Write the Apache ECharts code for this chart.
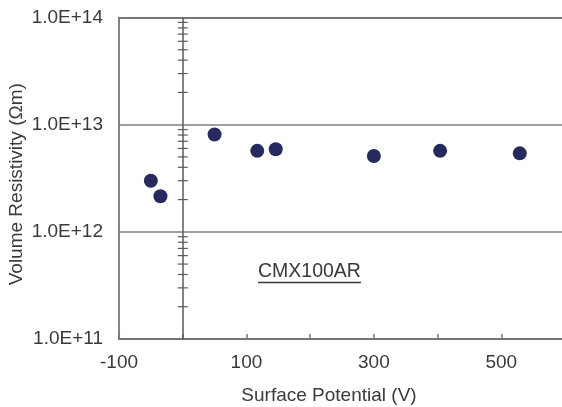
<!DOCTYPE html>
<html>
<head>
<meta charset="utf-8">
<script src="https://cdn.jsdelivr.net/npm/echarts@6/dist/echarts.min.js"></script>
<style>html,body{margin:0;padding:0;background:#fff}#c{width:562px;height:407px}</style>
</head>
<body>
<div id="c"></div>
<script>
// Data
const surfacePotential = [-50, -35, 50, 117, 146, 300, 404, 529];
const volumeResistivity = [3.0e12, 2.15e12, 8.1e12, 5.7e12, 5.9e12, 5.1e12, 5.7e12, 5.4e12];
const xTickLabels = ['-100', '100', '300', '500'];
const yDecades = [1e11, 1e12, 1e13];
const minorMultipliers = [2, 3, 4, 5, 6, 7, 8, 9];
const annotationText = 'CMX100AR';

const FONT = "'Liberation Sans', Arial, sans-serif";
const TXT = '#3a3a3a';
const AXIS = '#7a7574';

const minorTicks = [];
yDecades.forEach(d => minorMultipliers.forEach(m => minorTicks.push([0, d * m])));

const chart = echarts.init(document.getElementById('c'), null, {renderer: 'canvas'});
chart.setOption({
  animation: false,
  backgroundColor: '#fff',
  grid: {left: 119, right: -3, top: 17.5, bottom: 68, containLabel: false, outerBoundsMode: 'none'},
  xAxis: {
    type: 'value', min: -100, max: 600, interval: 100,
    name: 'Surface Potential (V)', nameLocation: 'middle', nameGap: 47, nameMoveOverlap: false,
    nameTextStyle: {fontFamily: FONT, fontSize: 19, color: TXT, padding: [0, 26, 0, 0]},
    axisLine: {show: true, onZero: false, lineStyle: {color: AXIS, width: 1.8}},
    axisTick: {show: true, inside: true, length: 5, lineStyle: {color: AXIS, width: 1.5}},
    axisLabel: {
      margin: 14, fontFamily: FONT, fontSize: 19, color: TXT,
      formatter: v => xTickLabels.indexOf(String(v)) >= 0 ? String(v) : ''
    },
    splitLine: {show: false}
  },
  yAxis: {
    type: 'log', logBase: 10, min: 1e11, max: 1e14,
    name: 'Volume Resistivity (Ωm)', nameLocation: 'middle', nameGap: 93, nameRotate: 90, nameMoveOverlap: false,
    nameTextStyle: {fontFamily: FONT, fontSize: 19, color: TXT, padding: [0, 12, 0, 0]},
    axisLine: {show: true, onZero: false, lineStyle: {color: AXIS, width: 1.8}},
    axisTick: {show: false},
    minorTick: {show: false},
    axisLabel: {
      margin: 16, fontFamily: FONT, fontSize: 19, color: TXT,
      formatter: v => Number(v).toExponential(1).toUpperCase()
    },
    splitLine: {show: true, lineStyle: {color: [AXIS, '#a39e9c', '#a39e9c', AXIS], width: 2}}
  },
  series: [
    {
      type: 'scatter',
      data: surfacePotential.map((x, i) => [x, volumeResistivity[i]]),
      symbol: 'circle', symbolSize: 14,
      itemStyle: {color: '#262a5e', opacity: 1},
      z: 5,
      markLine: {
        silent: true, symbol: ['none', 'none'], label: {show: false},
        lineStyle: {color: '#5e5957', width: 1.5, type: 'solid'},
        data: [{xAxis: 0}]
      }
    },
    {
      type: 'custom',
      data: minorTicks,
      silent: true,
      renderItem: (params, api) => {
        const p = api.coord([api.value(0), api.value(1)]);
        return {type: 'line', shape: {x1: p[0] - 5, y1: p[1], x2: p[0] + 5, y2: p[1]},
                style: {stroke: '#5e5957', lineWidth: 1.2}};
      },
      z: 4
    }
  ],
  graphic: [
    {type: 'text', left: 258, top: 262, style: {text: annotationText, font: '19.5px ' + FONT, fill: TXT}},
    {type: 'line', shape: {x1: 258, y1: 282.5, x2: 361, y2: 282.5}, style: {stroke: TXT, lineWidth: 1.5}}
  ]
});
</script>
</body>
</html>
